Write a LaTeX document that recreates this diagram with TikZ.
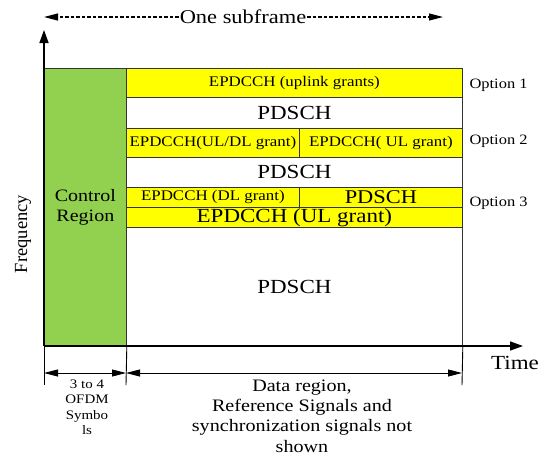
\documentclass[tikz,border=0pt]{standalone}
\usepackage{fontspec}
\setmainfont{Liberation Serif}[FakeStretch=1.15]
\newfontfamily\axisfont{Liberation Serif}
\usetikzlibrary{arrows.meta}
\definecolor{ctrlgreen}{HTML}{92D050}
\definecolor{epdyellow}{HTML}{FFFF00}
\newcommand{\fsize}[2]{\fontsize{#1}{#2}\selectfont}
\tikzset{
  cell/.style={draw=black!80, line width=0.8pt, rectangle, inner sep=0pt,
    anchor=north west, align=center},
  ctrlcell/.style={cell, fill=ctrlgreen},
  epdcell/.style={cell, fill=epdyellow},
  pdcell/.style={cell, fill=white, font=\fsize{20}{24}},
  small/.style={font=\fsize{14.7}{17}},
  axis/.style={line width=1.5pt, -{Triangle[length=13pt,width=9pt]}},
  dim/.style={line width=0.9pt,
    {Triangle[length=14pt,width=7pt]}-{Triangle[length=14pt,width=7pt]}},
  sfline/.style={line width=1.1pt, dash pattern=on 3.5pt off 2pt,
    -{Triangle[length=14pt,width=7pt]}},
  tick/.style={line width=0.9pt},
}
\begin{document}
\begin{tikzpicture}[x=1pt,y=-1pt]
  \useasboundingbox (0,0) rectangle (545,458);
  % control region and data rows
  \node[ctrlcell, minimum width=82pt, minimum height=278pt,
    font=\fsize{17.4}{20}] (ctrl) at (44,68) {Control\\Region};
  \node[epdcell, small, minimum width=336pt, minimum height=29pt] (opt1) at (126,68) {EPDCCH (uplink grants)};
  \node[pdcell, minimum width=336pt, minimum height=31pt] (pd1) at (126,97) {PDSCH};
  \node[epdcell, small, minimum width=173pt, minimum height=29pt] (opt2a) at (126,128) {EPDCCH(UL/DL grant)};
  \node[epdcell, small, minimum width=163pt, minimum height=29pt] (opt2b) at (299,128) {EPDCCH( UL grant)};
  \node[pdcell, minimum width=336pt, minimum height=30pt] (pd2) at (126,157) {PDSCH};
  \node[epdcell, small, minimum width=173pt, minimum height=20pt] (opt3a) at (126,187) {EPDCCH (DL grant)};
  \node[epdcell, font=\fsize{19.5}{20}, minimum width=163pt, minimum height=20pt] (opt3b) at (299,187) {PDSCH};
  \node[epdcell, font=\fsize{20}{20}, minimum width=336pt, minimum height=20pt] (opt3c) at (126,207) {EPDCCH (UL grant)};
  \node[pdcell, minimum width=336pt, minimum height=119pt] (pd3) at (126,227) {PDSCH};
  % option labels
  \node[font=\fsize{14.3}{17}, anchor=west] (lab1) at (466,85) {Option 1};
  \node[font=\fsize{14.3}{17}, anchor=west] (lab2) at (466,141) {Option 2};
  \node[font=\fsize{14.3}{17}, anchor=west] (lab3) at (466,203) {Option 3};
  % axes
  \coordinate (orig) at (44,346);
  \coordinate (ftip) at (44,30);
  \coordinate (ttip) at (523,346);
  \draw[axis] (orig) -- (ftip);
  \draw[axis] (orig) -- (ttip);
  \node[font=\fsize{20}{24}] (time) at (515,363) {Time};
  \node[font=\axisfont\fsize{18.5}{20}, rotate=90] (freq) at (23,234) {Frequency};
  % one subframe
  \coordinate (sf0) at (44,17);
  \coordinate (sf1) at (443,17);
  \node[font=\fsize{19.5}{22}, inner sep=1pt] (sub) at (243,17) {One subframe};
  \draw[sfline] (sub) -- (sf0);
  \draw[sfline] (sub) -- (sf1);
  % ticks and spans below the time axis
  \coordinate (tk0) at (44,385);
  \coordinate (tk1) at (126,385);
  \coordinate (tk2) at (462,385);
  \draw[tick] (ctrl.south west) -- (tk0);
  \draw[tick] (ctrl.south east) -- (tk1);
  \draw[tick] (pd3.south east) -- (tk2);
  \coordinate (d0) at (44,373);
  \coordinate (d1) at (126,373);
  \coordinate (d2) at (462,373);
  \draw[dim] (d0) -- (d1);
  \draw[dim] (d1) -- (d2);
  \node[font=\fsize{13}{15.5}, align=center] (sym) at (87,407) {3 to 4\\OFDM\\Symbo\\ls};
  \node[font=\fsize{17.5}{20.4}, align=center, inner sep=1pt] (data) at (302,416) {Data region,\\Reference Signals and\\synchronization signals not\\shown};
\end{tikzpicture}
\end{document}
